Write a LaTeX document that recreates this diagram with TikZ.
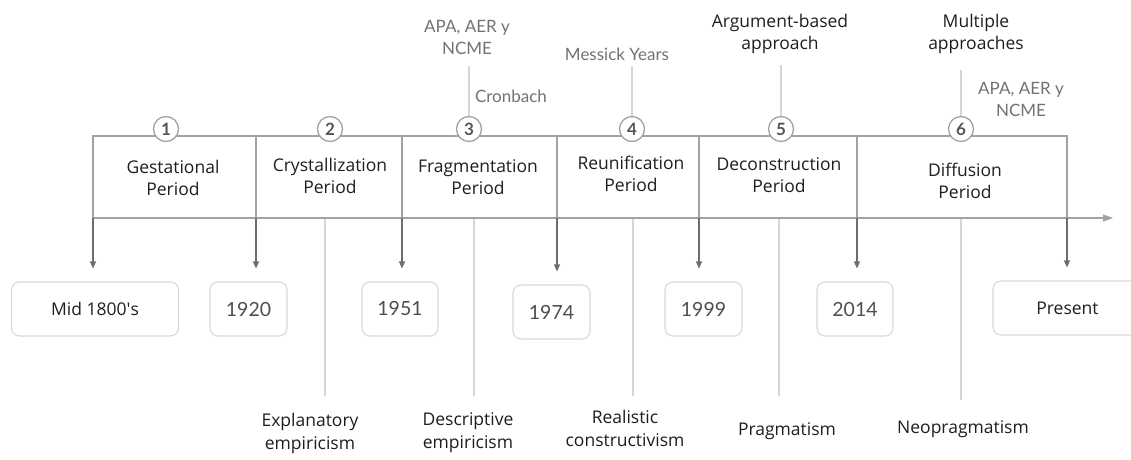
\documentclass[tikz,border=0pt]{standalone}
\usepackage{fontspec}
\setmainfont{Open Sans}
\newfontfamily\grayfont{Lato}
\usetikzlibrary{arrows.meta}
\definecolor{frameC}{HTML}{A2A2A2}
\definecolor{lightC}{HTML}{D6D6D6}
\definecolor{boxC}{HTML}{D9D9D9}
\definecolor{arrC}{HTML}{6E6E6E}
\definecolor{grayT}{HTML}{727272}
\definecolor{yearT}{HTML}{4E4E4E}
\definecolor{numT}{HTML}{555555}
\definecolor{blackT}{HTML}{1E1E1E}
\begin{document}
\begin{tikzpicture}[x=1pt,y=-1pt,
  frame/.style={draw=frameC, line width=1.3pt},
  light/.style={draw=lightC, line width=1.2pt},
  arr/.style={draw=arrC, line width=1.1pt, -{Triangle[length=7pt,width=6pt]}, shorten >=13pt},
  datebox/.style={draw=boxC, line width=1.1pt, rounded corners=8pt, minimum height=54pt, inner sep=0pt},
  numc/.style={circle, draw=frameC, line width=1.3pt, fill=white, minimum size=25pt, inner sep=0pt, font=\grayfont\bfseries\fontsize{17}{17}\selectfont, text=numT},
  period/.style={align=center, font=\fontsize{17.5}{22.5}\selectfont, text=blackT},
  toplbl/.style={align=center, font=\fontsize{17.5}{22.5}\selectfont, text=blackT},
  graylbl/.style={align=center, font=\grayfont\fontsize{17}{22}\selectfont, text=grayT},
  yearlbl/.style={font=\grayfont\fontsize{19.5}{19.5}\selectfont, text=yearT},
  blacklbl/.style={font=\fontsize{17.5}{18}\selectfont, text=blackT},
  botlbl/.style={align=center, font=\fontsize{17.5}{23}\selectfont, text=blackT}
]
\useasboundingbox (0,0) rectangle (1131,459);

% axis coordinates
\coordinate (t0) at (93,218);
\coordinate (t1) at (256,218);
\coordinate (t2) at (402,218);
\coordinate (t3) at (557,218);
\coordinate (t4) at (699,218);
\coordinate (t5) at (857,218);
\coordinate (t6) at (1067,218);
\coordinate (tend) at (1113,218);
\coordinate (u0) at (93,136);
\coordinate (u1) at (256,136);
\coordinate (u2) at (402,136);
\coordinate (u3) at (557,136);
\coordinate (u4) at (699,136);
\coordinate (u5) at (857,136);
\coordinate (u6) at (1067,136);

% gray lines (bottom)
\coordinate (g1) at (325,218); \coordinate (h1) at (325,396);
\coordinate (g2) at (474,218); \coordinate (h2) at (474,396);
\coordinate (g3) at (633,218); \coordinate (h3) at (633,396);
\coordinate (g4) at (779,218); \coordinate (h4) at (779,396);
\coordinate (g5) at (961,218); \coordinate (h5) at (961,400);
\draw[light] (g1) -- (h1);
\draw[light] (g2) -- (h2);
\draw[light] (g3) -- (h3);
\draw[light] (g4) -- (h4);
\draw[light] (g5) -- (h5);

% frame
\draw[frame] (t0) -- (u0) -- (u6) -- (t6);
\draw[frame] (u1) -- (t1);
\draw[frame] (u2) -- (t2);
\draw[frame] (u3) -- (t3);
\draw[frame] (u4) -- (t4);
\draw[frame] (u5) -- (t5);
\draw[frame, -{Triangle[length=10pt,width=7pt]}] (t0) -- (tend);

% top labels
\node[graylbl] (apa1) at (467,37) {APA, AER y\\NCME};
\node[graylbl] (cron) at (511,96) {Cronbach};
\node[graylbl] (mess) at (617,54) {Messick Years};
\node[toplbl] (arg) at (780,34) {Argument-based\\approach};
\node[toplbl] (mult) at (976,34) {Multiple\\approaches};
\node[graylbl] (apa2) at (1021,99) {APA, AER y\\NCME};

% circles
\node[numc] (c1) at (166,129) {1};
\node[numc] (c2) at (330,129) {2};
\node[numc] (c3) at (469,129) {3};
\node[numc] (c4) at (632,129) {4};
\node[numc] (c5) at (781,129) {5};
\node[numc] (c6) at (961,129) {6};

\coordinate (s3) at (469,66);
\coordinate (s4) at (632,66);
\coordinate (s5) at (781,65);
\coordinate (s6) at (961,70);
\draw[light] (s3) -- (c3.north);
\draw[light] (s4) -- (c4.north);
\draw[light] (s5) -- (c5.north);
\draw[light] (s6) -- (c6.north);

% period labels
\node[period] (p1) at (173,178) {Gestational\\Period};
\node[period] (p2) at (330,176) {Crystallization\\Period};
\node[period] (p3) at (478,177) {Fragmentation\\Period};
\node[period] (p4) at (631,174) {Reunification\\Period};
\node[period] (p5) at (779,175) {Deconstruction\\Period};
\node[period] (p6) at (965,181) {Diffusion\\Period};

% date boxes
\node[datebox, minimum width=167pt, blacklbl] (b0) at (95,309) {Mid 1800\textquotesingle s};
\node[datebox, minimum width=77pt, yearlbl] (b1) at (248.5,309) {1920};
\node[datebox, minimum width=76pt, yearlbl] (b2) at (400,309) {1951};
\node[datebox, minimum width=77pt, yearlbl] (b3) at (551.5,312) {1974};
\node[datebox, minimum width=77pt, yearlbl] (b4) at (703.5,309) {1999};
\node[datebox, minimum width=76pt, yearlbl] (b5) at (855,309) {2014};
\node[datebox, minimum width=160pt, blacklbl, text width=140pt, align=center] (b6) at (1073,308) {\hspace*{-11pt}Present};

\draw[arr] (t0) -- (t0 |- b0.north);
\draw[arr] (t1) -- (t1 |- b1.north);
\draw[arr] (t2) -- (t2 |- b2.north);
\draw[arr] (t3) -- (t3 |- b3.north);
\draw[arr] (t4) -- (t4 |- b4.north);
\draw[arr] (t5) -- (t5 |- b5.north);
\draw[arr] (t6) -- (t6 |- b6.north);

% bottom labels
\node[botlbl] (e1) at (310,433) {Explanatory\\empiricism};
\node[botlbl] (e2) at (468,433) {Descriptive\\empiricism};
\node[botlbl] (e3) at (625,428) {Realistic\\constructivism};
\node[botlbl] (e4) at (787,431) {Pragmatism};
\node[botlbl] (e5) at (963,429) {Neopragmatism};
\end{tikzpicture}
\end{document}
